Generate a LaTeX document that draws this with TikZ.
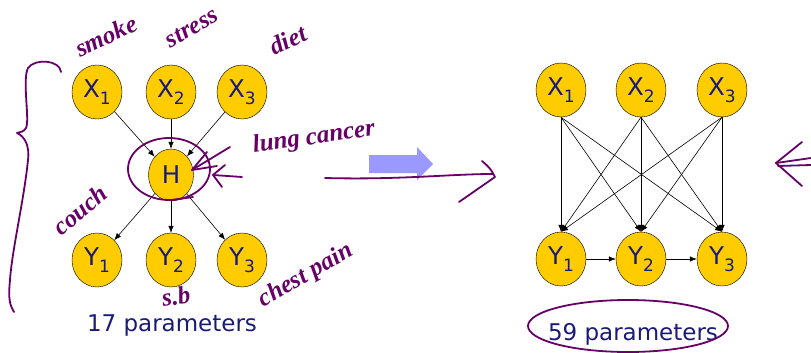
\documentclass[tikz,border=0pt]{standalone}
\usepackage{fontspec}
\setmainfont{DejaVu Sans}
\newfontfamily\handfont{Liberation Serif}
\usetikzlibrary{shapes.geometric,arrows.meta}
\definecolor{nodegold}{HTML}{FFCC00}
\definecolor{labelblue}{HTML}{1A1A78}
\definecolor{penpurple}{HTML}{660066}
\definecolor{arrowblue}{HTML}{9999FF}
%% variable with lowered index
\newcommand{\rvar}[2]{#1\raisebox{-0.3em}{\fontsize{17}{17}\selectfont #2}}
\begin{document}
\begin{tikzpicture}[x=1pt,y=-1pt,
        rv/.style={draw,ellipse,fill=nodegold,minimum width=50pt,minimum height=54pt,inner sep=0pt,
            text=labelblue,font=\fontsize{24.5}{24.5}\selectfont},
        link/.style={-{Latex[length=7pt,width=5.5pt]},line width=0.6pt},
        count/.style={text=labelblue,font=\fontsize{23}{23}\selectfont},
        pen/.style={draw=penpurple,line width=1.8pt,line cap=round,line join=round},
        scrawl/.style={text=penpurple,font=\fontsize{25}{25}\selectfont\handfont\bfseries\itshape}]
    \useasboundingbox (0,0) rectangle (811,353);
    \begin{scope}
        %% causes
        \node[rv] (hx1) at (97,92) {\rvar{X}{1}};
        \node[rv] (hx2) at (171,92) {\rvar{X}{2}};
        \node[rv] (hx3) at (242,92) {\rvar{X}{3}};
        %% hidden node
        \node[rv,minimum width=45pt,minimum height=52pt] (h) at (171,175) {H};
        %% effects
        \node[rv] (hy1) at (97,260) {\rvar{Y}{1}};
        \node[rv] (hy2) at (171,260) {\rvar{Y}{2}};
        \node[rv] (hy3) at (242,260) {\rvar{Y}{3}};
        \draw[link] (hx1) -- (h);
        \draw[link] (hx2) -- (h);
        \draw[link] (hx3) -- (h);
        \draw[link] (h) -- (hy1);
        \draw[link] (h) -- (hy2);
        \draw[link] (h) -- (hy3);
        \node[count] (hcount) at (172,326) {17 parameters};
    \end{scope}
    %% block arrow
    \fill[arrowblue] (369,155) -- (417,155) -- (417,147) -- (433,164) -- (417,180) -- (417,173) -- (369,173) -- cycle;
    \begin{scope}
        %% causes
        \node[rv] (fx1) at (561,90) {\rvar{X}{1}};
        \node[rv] (fx2) at (641,90) {\rvar{X}{2}};
        \node[rv] (fx3) at (722,90) {\rvar{X}{3}};
        %% effects
        \node[rv] (fy1) at (561,259) {\rvar{Y}{1}};
        \node[rv] (fy2) at (641,259) {\rvar{Y}{2}};
        \node[rv] (fy3) at (722,259) {\rvar{Y}{3}};
        \draw[link] (fx1.south) -- (fy1.north);
        \draw[link] (fx1.south) -- (fy2.north);
        \draw[link] (fx1.south) -- (fy3.north);
        \draw[link] (fx2.south) -- (fy1.north);
        \draw[link] (fx2.south) -- (fy2.north);
        \draw[link] (fx2.south) -- (fy3.north);
        \draw[link] (fx3.south) -- (fy1.north);
        \draw[link] (fx3.south) -- (fy2.north);
        \draw[link] (fx3.south) -- (fy3.north);
        \draw[link] (fy1) -- (fy2);
        \draw[link] (fy2) -- (fy3);
        \node[count] (fcount) at (633,334) {59 parameters};
    \end{scope}
    %% pen notes
    \node[scrawl,rotate=25] (smoke) at (106,36) {smoke};
    \node[scrawl,rotate=30] (stress) at (192,28) {stress};
    \node[scrawl,rotate=25] (diet) at (288,40) {diet};
    \node[scrawl,rotate=8] (cancer) at (314,138) {lung cancer};
    \node[scrawl,rotate=40] (cough) at (80,210) {couch};
    \node[scrawl,rotate=10] (sb) at (176,296) {s.b};
    \node[scrawl,rotate=30] (pain) at (306,276) {chest pain};
    %% brace
    \draw[pen] (61,72) .. controls (60,60) and (35,58) .. (28,68)
        .. controls (22,80) and (30,120) .. (26,128)
        .. controls (24,132) and (20,132) .. (17,133)
        .. controls (24,136) and (30,145) .. (28,160)
        .. controls (24,200) and (12,250) .. (10,280)
        .. controls (8,300) and (10,305) .. (14,312);
    %% ring round H
    \draw[pen] (169,169) ellipse [x radius=41, y radius=31];
    \draw[pen] (172,200) -- (193,197);
    \draw[pen] (230,147) -- (192,170);
    \draw[pen] (207,152) -- (192,170) -- (217,166);
    \draw[pen] (242,177) -- (213,175);
    \draw[pen] (225,165) -- (213,175) -- (222,187);
    %% long stroke
    \draw[pen] (325,178) .. controls (400,180) and (450,174) .. (493,174);
    \draw[pen] (482,161) .. controls (490,168) .. (495,177) -- (459,202);
    \draw[pen] (802,142) -- (776,163) -- (802,186);
    \draw[pen] (776,163) -- (811,158);
    \draw[pen] (778,166) -- (811,165);
    %% ring round count
    \draw[pen] (628,326) ellipse [x radius=100, y radius=26];
\end{tikzpicture}
\end{document}
